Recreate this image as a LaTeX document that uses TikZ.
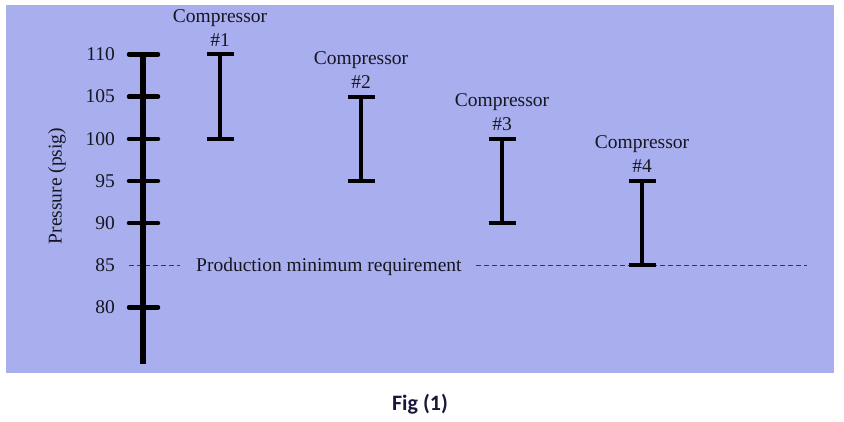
\documentclass[tikz,border=0pt]{standalone}
\usepackage{fontspec}
\setmainfont{Liberation Serif}
\newfontfamily\capfont{Carlito}
\definecolor{bgblue}{RGB}{169,175,238}
\definecolor{txt}{RGB}{22,22,32}
\definecolor{captxt}{RGB}{24,24,60}
\begin{document}
\begin{tikzpicture}[x=1pt,y=-1pt,
  lbl/.style={font=\fontsize{19.5}{22}\selectfont, text=txt, inner sep=0pt},
  axisline/.style={line width=6pt, black},
  tickline/.style={line width=4.5pt, black, line cap=round},
  barline/.style={line width=4pt, black},
  capline/.style={line width=4pt, black},
  dashline/.style={line width=1pt, txt!85, dash pattern=on 5pt off 3pt}]
\useasboundingbox (0,0) rectangle (844,422);
\fill[bgblue] (6,5) rectangle (834,373);
% pressure levels
\def\yA{54.5}   % 110
\def\yB{96.6}   % 105
\def\yC{138.8}  % 100
\def\yD{181.0}  % 95
\def\yE{223.1}  % 90
\def\yF{265.3}  % 85
\def\yG{307.4}  % 80
% dashed requirement line
\coordinate (dL1) at (129,\yF);
\coordinate (dL2) at (180,\yF);
\coordinate (dR1) at (476,\yF);
\coordinate (dR2) at (807,\yF);
\draw[dashline] (dL1) -- (dL2);
\draw[dashline] (dR1) -- (dR2);
\node[lbl, anchor=base west] (req) at (196,272) {Production minimum requirement};
% axis
\coordinate (axtop) at (143,52.5);
\coordinate (axbot) at (143,364);
\draw[axisline] (axtop) -- (axbot);
\foreach \yy/\lab in {\yA/110,\yB/105,\yC/100,\yD/95,\yE/90,\yG/80}{
  \coordinate (tl) at (129,\yy);
  \coordinate (tr) at (158,\yy);
  \draw[tickline] (tl) -- (tr);
}
\foreach \yy/\lab in {\yA/110,\yB/105,\yC/100,\yD/95,\yE/90,\yF/85,\yG/80}{
  \node[lbl, anchor=east] (t\lab) at (115,\yy) {\lab};
}
\node[lbl, rotate=90] (ylab) at (57,186) {Pressure (psig)};
% compressor bars
\foreach \n/\xx/\yt/\yb in {1/220/\yA/\yC, 2/361/\yB/\yD, 3/502/\yC/\yE, 4/642/\yD/\yF}{
  \coordinate (b\n t) at (\xx,\yt);
  \coordinate (b\n b) at (\xx,\yb);
  \draw[barline] (b\n t) -- (b\n b);
  \draw[capline] ([xshift=-13.5pt]b\n t) -- ([xshift=13.5pt]b\n t);
  \draw[capline] ([xshift=-13.5pt]b\n b) -- ([xshift=13.5pt]b\n b);
  \node[lbl, anchor=base] (n\n) at ([yshift=8pt]b\n t) {\#\n};
  \node[lbl, anchor=base] (c\n) at ([yshift=32pt]b\n t) {Compressor};
}
% caption
\node[font=\capfont\bfseries\fontsize{22}{26}\selectfont, text=captxt, inner sep=0pt] (cap) at (420,404) {Fig (1)};
\end{tikzpicture}
\end{document}
